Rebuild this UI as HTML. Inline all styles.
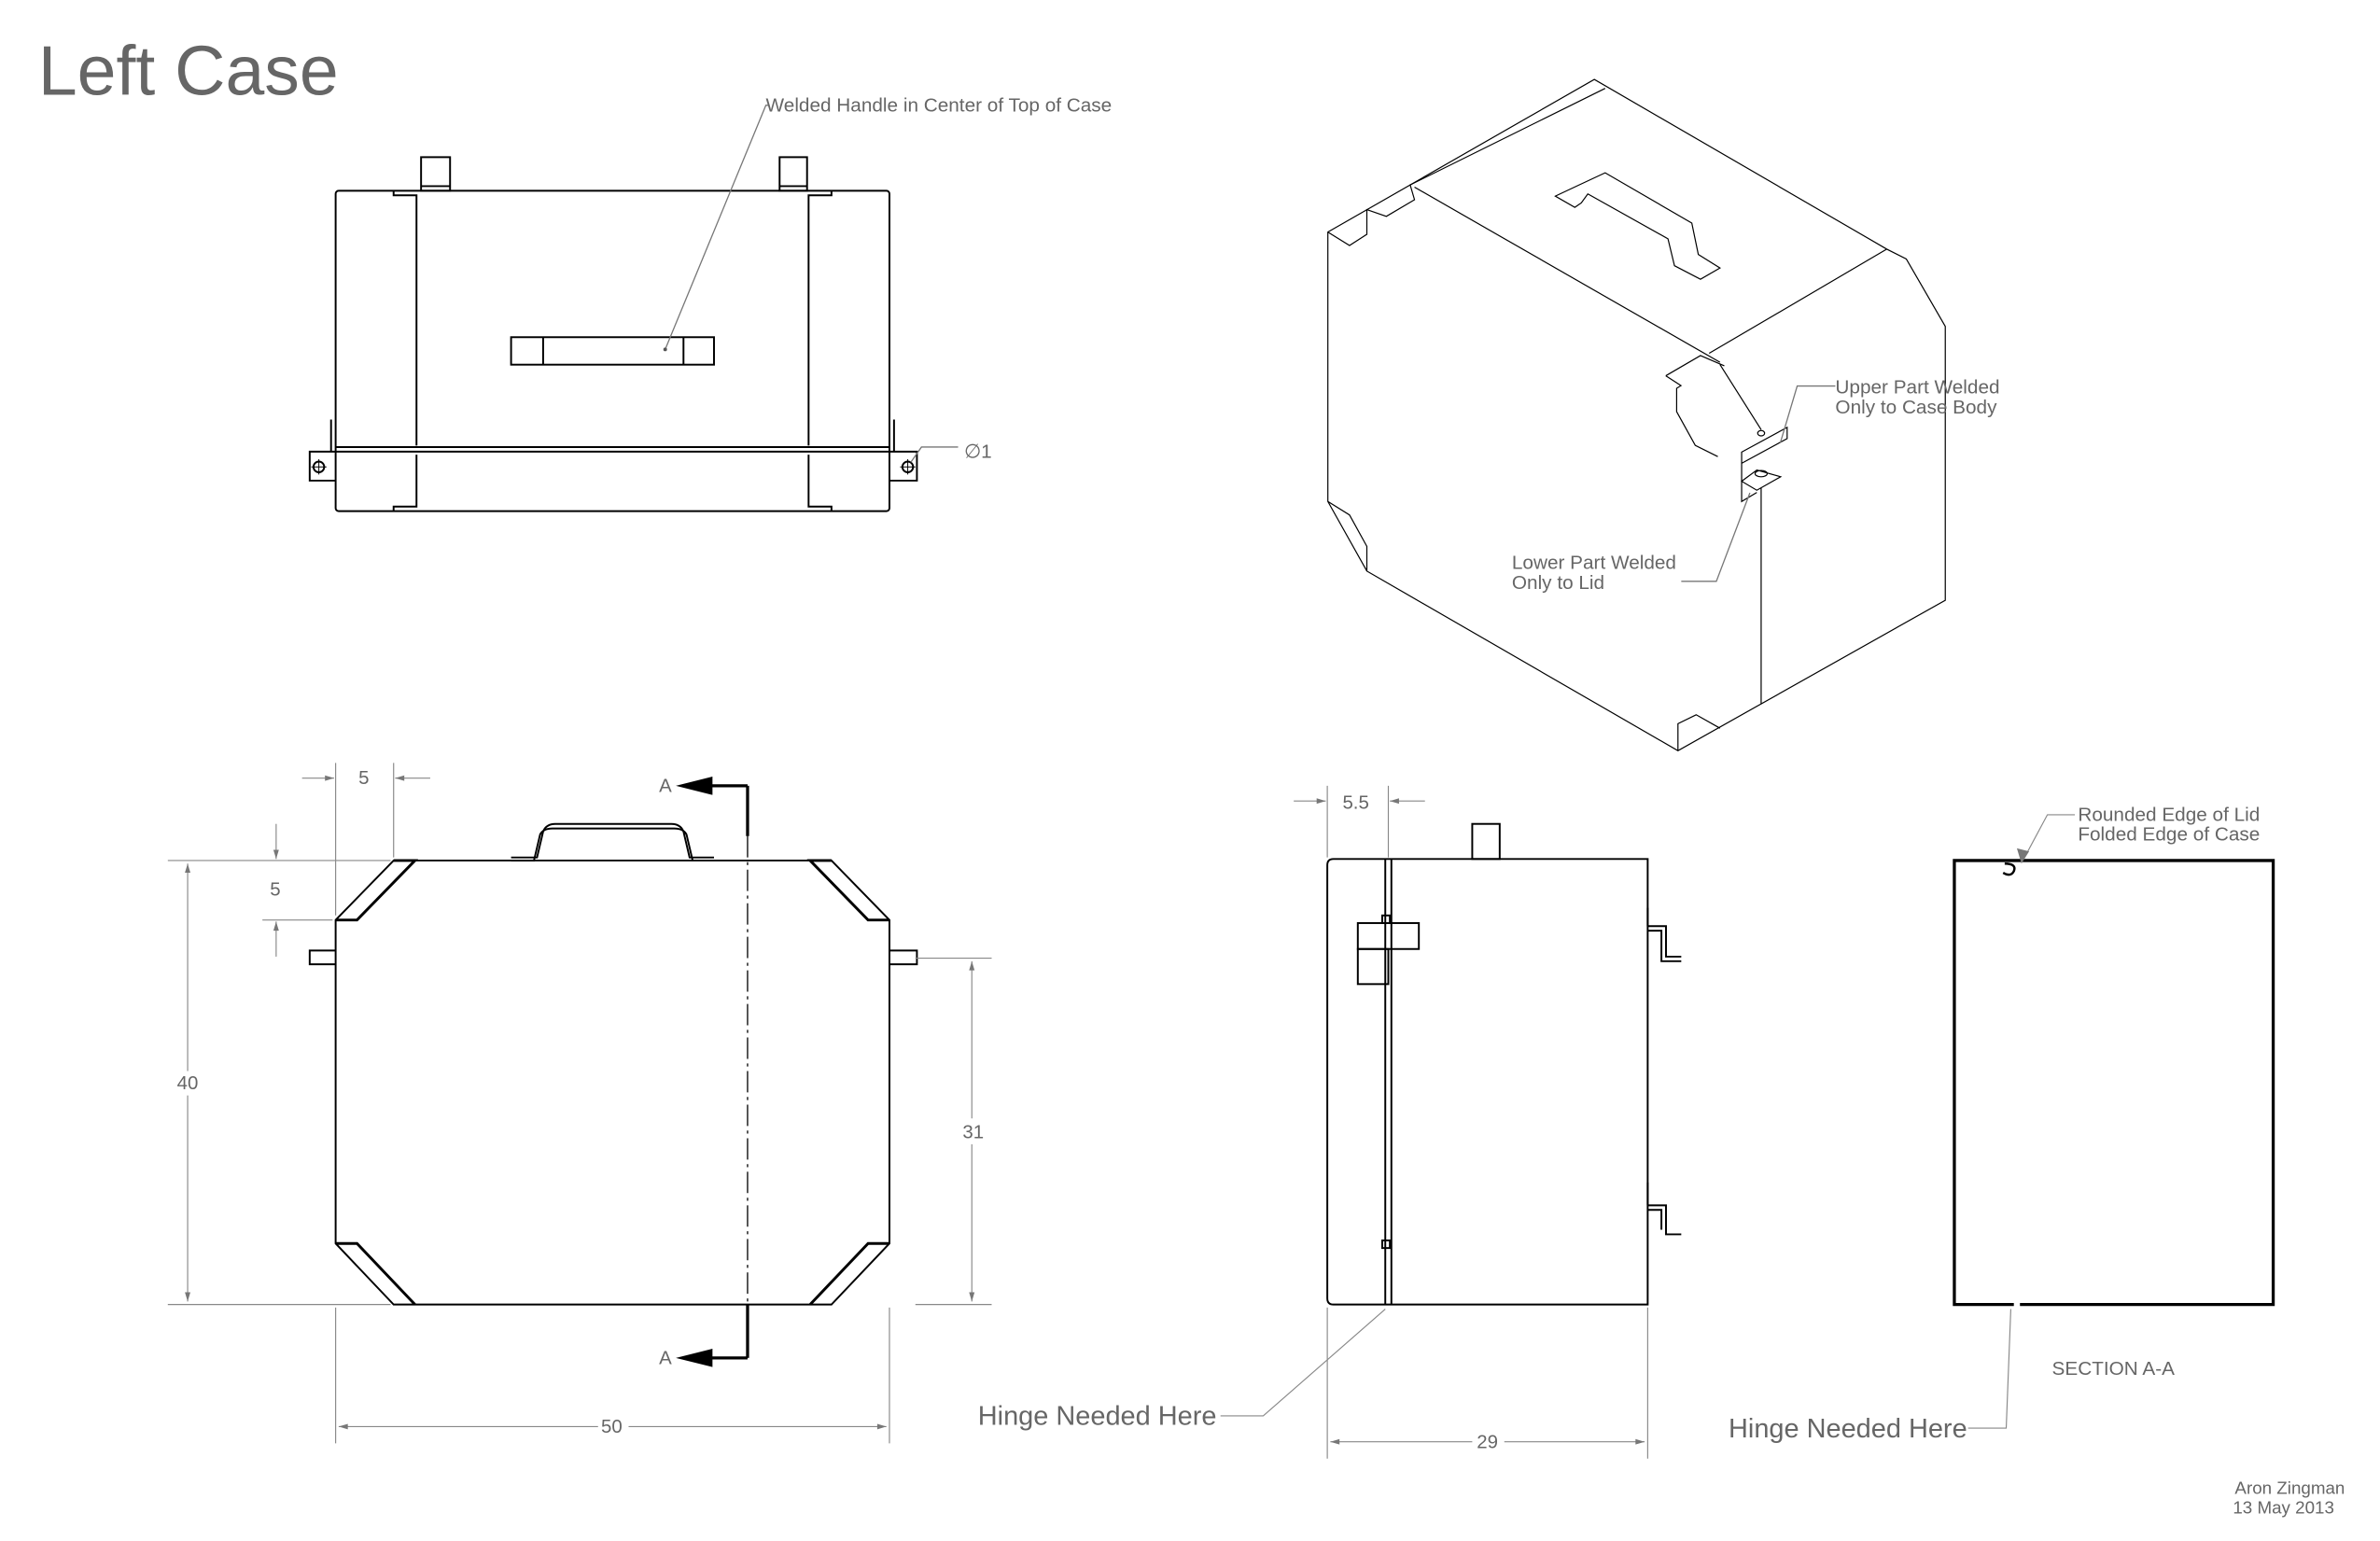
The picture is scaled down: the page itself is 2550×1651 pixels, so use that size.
<!DOCTYPE html>
<html><head><meta charset="utf-8"><style>
html,body{margin:0;padding:0;background:#fff;}
svg{display:block;}
text{font-family:"Liberation Sans",Arial,sans-serif;fill:#666;}
</style></head><body>
<svg width="2550" height="1651" viewBox="0 0 1560 1010" xmlns="http://www.w3.org/2000/svg">
<defs>
<marker id="ar" viewBox="0 0 10 10" refX="10" refY="5" markerWidth="8" markerHeight="6" orient="auto-start-reverse" markerUnits="userSpaceOnUse"><path d="M0,2 L10,5 L0,8z" fill="#777"/></marker>
</defs>
<text x="25" y="62" font-size="46" fill="#707070">Left Case</text>

<!-- TOP VIEW -->
<g fill="none" stroke="#000" stroke-width="1.2">
<rect x="220" y="125" width="363" height="210" rx="2"/>
<line x1="220" y1="293" x2="583" y2="293"/><line x1="220" y1="296" x2="583" y2="296"/>
<path d="M258,125 V128 H273 V292 M258,335 V332 H273 V298"/>
<path d="M545,125 V128 H530 V292 M545,335 V332 H530 V298"/>
<rect x="276" y="103" width="19" height="22"/><line x1="276" y1="122" x2="295" y2="122"/>
<rect x="511" y="103" width="18" height="22"/><line x1="511" y1="122" x2="529" y2="122"/>
<rect x="335" y="221" width="133" height="18"/><line x1="356" y1="221" x2="356" y2="239"/><line x1="448" y1="221" x2="448" y2="239"/>
<path d="M217,275 V296 M220,296 H203 V315 H220"/>
<path d="M586,275 V296 M583,296 H601 V315 H583"/>
<circle cx="209" cy="306" r="3.5"/><circle cx="595" cy="306" r="3.5"/>
</g>
<g stroke="#000" stroke-width="0.6"><path d="M204,306h10M209,301v10M590,306h10M595,301v10"/></g>
<g stroke="#777" stroke-width="0.8" fill="none"><path d="M436,229 L502,69 H504"/><path d="M597,303 L604,293 H628"/></g>
<circle cx="436" cy="229" r="1.2" fill="#555"/>
<text x="502" y="73" font-size="12.7">Welded Handle in Center of Top of Case</text>
<text x="632" y="300" font-size="12.7">∅1</text>

<!-- ISOMETRIC -->
<g transform="translate(859,43.2) scale(0.284,0.2943)" fill="none" stroke="#000" stroke-width="1.2">
<path vector-effect="non-scaling-stroke" d="M40,370 L655,30 L1330,408 L1375,430 L1465,580 L1465,1190 L848,1525 L130,1125 L40,970 Z"/>
<path vector-effect="non-scaling-stroke" d="M40,370 L90,400 L130,375 L130,320 L175,335 L240,298 L230,265 L680,50"/>
<path vector-effect="non-scaling-stroke" d="M240,270 L945,660"/>
<path vector-effect="non-scaling-stroke" d="M920,640 L1330,408"/>
<path vector-effect="non-scaling-stroke" d="M945,665 L1040,810"/>
<path vector-effect="non-scaling-stroke" d="M1040,940 L1040,1420"/>
<path vector-effect="non-scaling-stroke" d="M40,970 L90,1000 L130,1070 L130,1125"/>
<path vector-effect="non-scaling-stroke" d="M848,1525 L848,1465 L890,1445 L945,1475"/>
<path vector-effect="non-scaling-stroke" d="M820,690 L900,645 L955,668 M820,690 L855,712 L845,718 L845,770 L888,845 L940,870"/>
<path vector-effect="non-scaling-stroke" d="M565,290 L620,265 L680,238 L880,350 L895,420 L945,450 L900,475 L840,445 L825,385 L640,285 L625,305 L610,315 Z"/>
<path vector-effect="non-scaling-stroke" d="M995,860 L1100,805 L1100,830 L995,885 Z M995,885 L995,970 L1030,950 M1030,900 L1085,915 L1030,945 L995,925 Z"/>
<ellipse vector-effect="non-scaling-stroke" cx="1040" cy="908" rx="14" ry="7"/>
<ellipse vector-effect="non-scaling-stroke" cx="1040" cy="818" rx="8" ry="6"/>
</g>
<g stroke="#777" stroke-width="0.8" fill="none"><path d="M1167,290 L1178,253 H1203"/><path d="M1147,323 L1125,381 H1102"/></g>
<text x="1203" y="258" font-size="12.7">Upper Part Welded</text>
<text x="1203" y="271" font-size="12.7">Only to Case Body</text>
<text x="991" y="373" font-size="12.7">Lower Part Welded</text>
<text x="991" y="386" font-size="12.7">Only to Lid</text>

<!-- FRONT VIEW -->
<g fill="none" stroke="#000" stroke-width="1.2">
<path d="M258,564 H545 L583,603 V815 L545,855 H258 L220,815 V603 Z"/>
<path d="M258,564 L272,564 L234,603 L220,603" stroke-width="1.8"/>
<path d="M545,564 L531,564 L569,603 L583,603" stroke-width="1.8"/>
<path d="M220,815 L234,815 L272,855" stroke-width="1.8"/>
<path d="M583,815 L569,815 L531,855" stroke-width="1.8"/>
<path d="M335,562 H352 L356,545 Q358,540 364,540 H440 Q446,540 448,545 L452,562 H468"/>
<path d="M335,564 H350 L354,547 Q356,543 362,543 H442 Q448,543 450,547 L454,564"/>
<path d="M220,623 H203 V632 H220 M583,623 H601 V632 H583"/>
</g>
<line x1="490" y1="548" x2="490" y2="855" stroke="#000" stroke-width="0.8" stroke-dasharray="14,3,2,3"/>
<g stroke="#000" stroke-width="2"><line x1="490" y1="515" x2="490" y2="548"/><line x1="490" y1="855" x2="490" y2="890"/>
<line x1="490" y1="515" x2="465" y2="515"/><line x1="490" y1="890" x2="465" y2="890"/></g>
<path d="M443,515 L467,509 L467,521Z M443,890 L467,884 L467,896Z" fill="#000"/>
<text x="432" y="519" font-size="12.5" fill="#000">A</text>
<text x="432" y="894" font-size="12.5" fill="#000">A</text>

<g stroke="#888" stroke-width="0.7" fill="none">
<path d="M110,564 H256 M110,855 H256"/>
<line x1="123" y1="566" x2="123" y2="702" marker-start="url(#ar)"/><line x1="123" y1="718" x2="123" y2="853" marker-end="url(#ar)"/>
<path d="M600,628 H650 M600,855 H650"/>
<line x1="637" y1="630" x2="637" y2="733" marker-start="url(#ar)"/><line x1="637" y1="750" x2="637" y2="853" marker-end="url(#ar)"/>
<path d="M220,857 V946 M583,857 V946"/>
<line x1="222" y1="935" x2="392" y2="935" marker-start="url(#ar)"/><line x1="412" y1="935" x2="581" y2="935" marker-end="url(#ar)"/>
<path d="M220,500 V600 M258,500 V562"/>
<line x1="198" y1="510" x2="219" y2="510" marker-end="url(#ar)"/><line x1="282" y1="510" x2="259" y2="510" marker-end="url(#ar)"/>
<path d="M172,603 H218"/>
<line x1="181" y1="540" x2="181" y2="563" marker-end="url(#ar)"/><line x1="181" y1="627" x2="181" y2="604" marker-end="url(#ar)"/>
</g>
<g font-size="12.5"><text x="116" y="714">40</text><text x="631" y="746">31</text><text x="394" y="939">50</text><text x="235" y="514">5</text><text x="177" y="587">5</text></g>

<!-- SIDE VIEW -->
<g fill="none" stroke="#000" stroke-width="1.2">
<path d="M874,563 H1080 V855 H874 Q870,855 870,851 V567 Q870,563 874,563 Z"/>
<line x1="908" y1="563" x2="908" y2="855"/><line x1="912" y1="563" x2="912" y2="855"/>
<rect x="965" y="540" width="18" height="23"/>
<rect x="890" y="605" width="40" height="17"/><rect x="890" y="622" width="20" height="23"/>
<rect x="906" y="600" width="5" height="5"/><rect x="906" y="813" width="5" height="5"/>
<path d="M1080,607 H1092 V627 H1102 M1080,610 H1089 V630 H1102"/>
<path d="M1080,790 H1092 V809 H1102 M1080,793 H1089 V806"/>
<path d="M1080,595 V607 M1080,775 V790"/>
</g>
<g stroke="#888" stroke-width="0.7" fill="none">
<path d="M870,515 V562 M910,515 V562"/>
<line x1="848" y1="525" x2="869" y2="525" marker-end="url(#ar)"/><line x1="934" y1="525" x2="911" y2="525" marker-end="url(#ar)"/>
<path d="M870,857 V956 M1080,857 V956"/>
<line x1="872" y1="945" x2="965" y2="945" marker-start="url(#ar)"/><line x1="986" y1="945" x2="1078" y2="945" marker-end="url(#ar)"/>
<path d="M800,928 H828 L908,858"/>
</g>
<text x="880" y="530" font-size="12.5">5.5</text>
<text x="968" y="949" font-size="12.5">29</text>
<text x="641" y="934" font-size="17.7">Hinge Needed Here</text>

<!-- SECTION A-A -->
<g fill="none" stroke="#000" stroke-width="2">
<path d="M1320,855 H1281 V564 H1490 V855 H1324"/>
</g>
<path d="M1314,566 Q1322,566 1320,571 Q1318,575 1313,572" fill="none" stroke="#000" stroke-width="1.5"/>
<g stroke="#888" stroke-width="0.7" fill="none"><path d="M1360,534 H1342 L1327,562"/><path d="M1290,936 H1315 L1318,858"/></g>
<path d="M1325,566 L1322,556 L1330,558Z" fill="#777"/>
<text x="1362" y="538" font-size="12.7">Rounded Edge of Lid</text>
<text x="1362" y="551" font-size="12.7">Folded Edge of Case</text>
<text x="1345" y="901" font-size="12.7">SECTION A-A</text>
<text x="1133" y="942" font-size="17.7">Hinge Needed Here</text>
<text x="1537" y="979" font-size="11.5" text-anchor="end">Aron Zingman</text>
<text x="1530" y="992" font-size="11.5" text-anchor="end">13 May 2013</text>
</svg>
</body></html>
